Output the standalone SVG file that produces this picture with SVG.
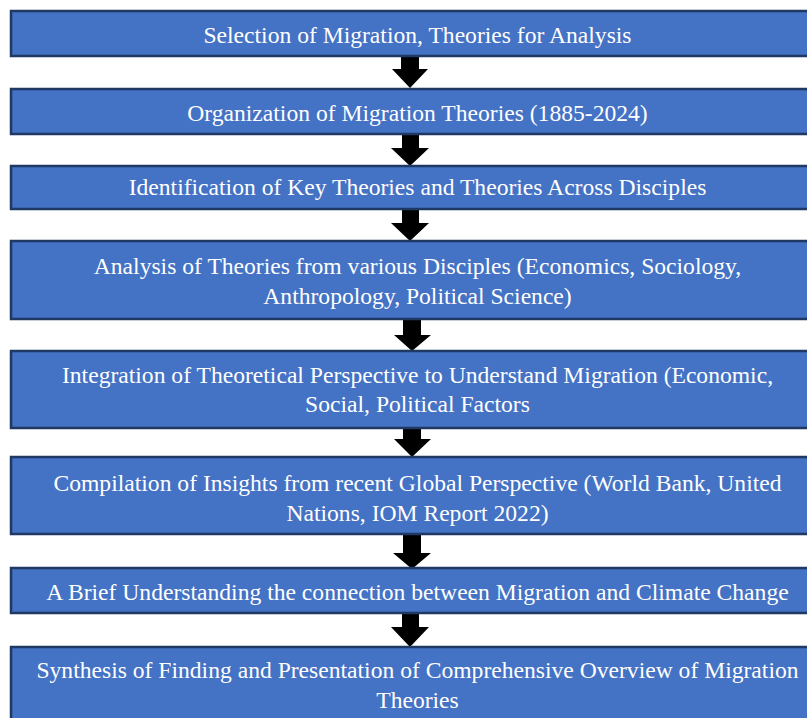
<svg xmlns="http://www.w3.org/2000/svg" width="807" height="718" viewBox="0 0 807 718">
  <style>
    .box { fill: #4472C4; stroke: #1F3864; stroke-width: 2.5; }
    .lbl { fill: #FFFFFF; font-family: "Liberation Serif", "Times New Roman", serif; font-size: 23.6px; text-anchor: middle; }
    .arrow { fill: #000000; }
  </style>
  <rect width="807" height="718" fill="#FFFFFF"/>

  <g id="connectors">
    <polygon class="arrow" points="401,56 419,56 419,69 428,69 410,88 392,69 401,69"/>
    <polygon class="arrow" points="402,134 419,134 419,148 429,148 410,166 391,148 402,148"/>
    <polygon class="arrow" points="402,209 419,209 419,223 429,223 410,241 391,223 402,223"/>
    <polygon class="arrow" points="403,319 421,319 421,335 431,335 412,351 394,335 403,335"/>
    <polygon class="arrow" points="403,428 421,428 421,439 431,439 412,457 394,439 403,439"/>
    <polygon class="arrow" points="403,534 421,534 421,553 431,553 412,569 393,553 403,553"/>
    <polygon class="arrow" points="402,613 419,613 419,627 429,627 410,647 391,627 402,627"/>
  </g>

  <g id="step1">
    <rect class="box" x="11" y="11" width="820" height="45"/>
    <text class="lbl" x="417.5" y="43">Selection of Migration, Theories for Analysis</text>
  </g>
  <g id="step2">
    <rect class="box" x="11" y="89" width="820" height="45"/>
    <text class="lbl" x="417.5" y="121">Organization of Migration Theories (1885-2024)</text>
  </g>
  <g id="step3">
    <rect class="box" x="11" y="166" width="820" height="43"/>
    <text class="lbl" x="417.5" y="195">Identification of Key Theories and Theories Across Disciples</text>
  </g>
  <g id="step4">
    <rect class="box" x="11" y="241" width="820" height="78"/>
    <text class="lbl" x="417.5" y="274">Analysis of Theories from various Disciples (Economics, Sociology,</text>
    <text class="lbl" x="417.5" y="304">Anthropology, Political Science)</text>
  </g>
  <g id="step5">
    <rect class="box" x="11" y="351" width="820" height="77"/>
    <text class="lbl" x="417.5" y="383">Integration of Theoretical Perspective to Understand Migration (Economic,</text>
    <text class="lbl" x="417.5" y="412">Social, Political Factors</text>
  </g>
  <g id="step6">
    <rect class="box" x="11" y="457" width="820" height="77"/>
    <text class="lbl" x="417.5" y="491">Compilation of Insights from recent Global Perspective (World Bank, United</text>
    <text class="lbl" x="417.5" y="521">Nations, IOM Report 2022)</text>
  </g>
  <g id="step7">
    <rect class="box" x="11" y="568" width="820" height="45"/>
    <text class="lbl" x="417.5" y="600">A Brief Understanding the connection between Migration and Climate Change</text>
  </g>
  <g id="step8">
    <rect class="box" x="11" y="647" width="820" height="90"/>
    <text class="lbl" x="417.5" y="678">Synthesis of Finding and Presentation of Comprehensive Overview of Migration</text>
    <text class="lbl" x="417.5" y="708">Theories</text>
  </g>
</svg>
